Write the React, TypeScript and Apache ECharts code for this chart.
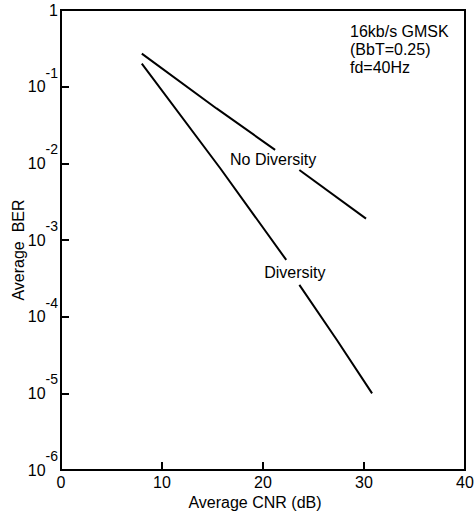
import React, { useEffect, useRef } from "react";
import * as echarts from "echarts";

const xTicks = [0, 10, 20, 30, 40];
const noDiversityA: [number, number][] = [[8, 0.27], [15.4, 0.052], [21.2, 0.015]];
const noDiversityB: [number, number][] = [[23.6, 0.0082], [30.2, 0.0019]];
const diversityA: [number, number][] = [[8, 0.2], [15.8, 0.0085], [22.3, 5.5e-4]];
const diversityB: [number, number][] = [[23.6, 2.6e-4], [27.3, 5e-5], [30.8, 1e-5]];
const curveLabels = [
  { name: "No Diversity", value: [21.0, 0.0112] },
  { name: "Diversity", value: [23.15, 3.8e-4] },
];
const noteLines = ["16kb/s GMSK", "(BbT=0.25)", "fd=40Hz"];

const FONT = "Liberation Sans, Arial, Helvetica, sans-serif";

export default function App() {
  const ref = useRef<HTMLDivElement>(null);
  useEffect(() => {
    if (!ref.current) return;
    const chart = echarts.init(ref.current, null, { renderer: "svg" });
    const lineSeries = (data: [number, number][]) => ({
      type: "line",
      data,
      symbol: "none",
      lineStyle: { color: "#000", width: 2 },
      silent: true,
    });
    chart.setOption({
      animation: false,
      backgroundColor: "#fff",
      textStyle: { fontFamily: FONT, color: "#000" },
      grid: {
        left: 61,
        right: 10,
        top: 10,
        bottom: 49,
        containLabel: false,
        outerBoundsMode: "none",
        show: true,
        borderColor: "#000",
        borderWidth: 2,
      },
      xAxis: {
        type: "value",
        min: xTicks[0],
        max: xTicks[xTicks.length - 1],
        interval: 10,
        name: "Average CNR (dB)",
        nameLocation: "middle",
        nameGap: 24,
        nameMoveOverlap: false,
        nameTextStyle: { fontSize: 16, color: "#000", fontFamily: FONT, padding: [0, 16, 0, 0] },
        axisLine: { show: true, lineStyle: { color: "#000", width: 2 } },
        axisTick: { show: true, inside: true, length: 8, lineStyle: { color: "#000", width: 2 } },
        axisLabel: { fontSize: 16, color: "#000", margin: 4, fontFamily: FONT },
        splitLine: { show: false },
      },
      yAxis: {
        type: "log",
        logBase: 10,
        min: 1e-6,
        max: 1,
        splitNumber: 6,
        name: "Average  BER",
        nameLocation: "middle",
        nameGap: 35,
        nameMoveOverlap: false,
        nameTextStyle: { fontSize: 16, color: "#000", fontFamily: FONT, padding: [0, 20, 0, 0] },
        axisLine: { show: true, lineStyle: { color: "#000", width: 2 } },
        axisTick: { show: true, inside: true, length: 8, lineStyle: { color: "#000", width: 2 } },
        minorTick: { show: false },
        splitLine: { show: false },
        axisLabel: {
          margin: 3,
          color: "#000",
          formatter: (v: number) => {
            const e = Math.round(Math.log10(v));
            if (e === 0) return "{b|1}";
            return "{b|10}{s|" + e + "}";
          },
          rich: {
            b: { fontSize: 16, lineHeight: 16, fontFamily: FONT, color: "#000" },
            s: { fontSize: 14, lineHeight: 14, fontFamily: FONT, color: "#000", padding: [0, 0, 28, 0] },
          },
        },
      },
      series: [
        lineSeries(noDiversityA),
        lineSeries(noDiversityB),
        lineSeries(diversityA),
        lineSeries(diversityB),
        {
          type: "scatter",
          data: curveLabels,
          symbolSize: 0,
          silent: true,
          itemStyle: { opacity: 1, color: "#000" },
          label: {
            show: true,
            position: "inside",
            formatter: "{b}",
            fontSize: 16,
            color: "#000",
            opacity: 1,
            textBorderWidth: 0,
            fontFamily: FONT,
          },
        },
      ],
      graphic: [
        {
          type: "text",
          left: 350,
          top: 22,
          style: {
            text: noteLines.join("\n"),
            fontSize: 16,
            lineHeight: 18,
            fontFamily: FONT,
            fill: "#000",
          },
        },
      ],
    });
    return () => chart.dispose();
  }, []);
  return (
    <div
      ref={ref}
      style={{ position: "absolute", left: 0, top: 0, width: 475, height: 519, background: "#fff" }}
    />
  );
}
